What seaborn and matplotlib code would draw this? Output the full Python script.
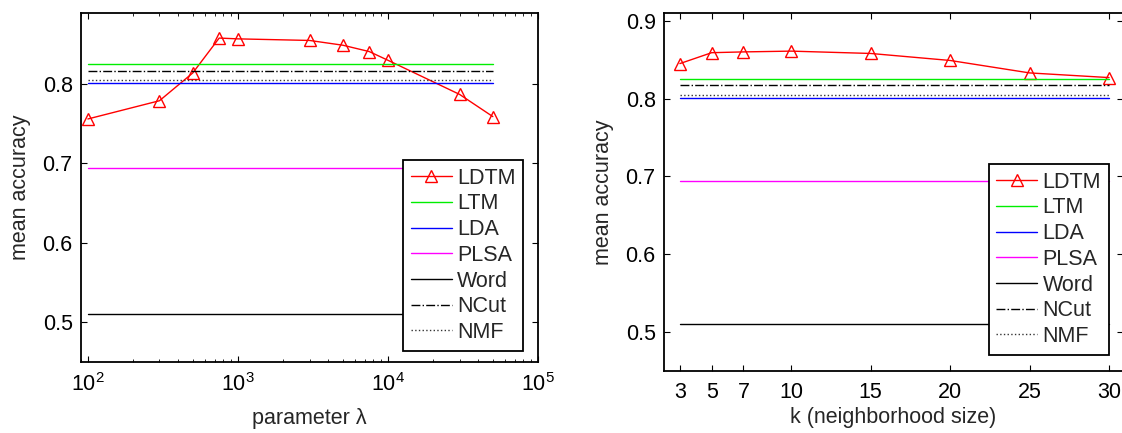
"""
Recreación: precisión media vs parámetro lambda y vs k (tamaño de vecindario).
"""
import matplotlib
matplotlib.use("Agg")
import matplotlib.pyplot as plt
import matplotlib.ticker as mticker
import pandas as pd
import seaborn as sns

# --- datos panel izquierdo (lambda, escala log) ---
lam = [100, 300, 500, 750, 1000, 3000, 5000, 7500, 10000, 30000, 50000]
ldtm_lam = [0.756, 0.779, 0.814, 0.858, 0.857, 0.855, 0.849, 0.841, 0.830, 0.787, 0.759]
lam_span = [100, 50000]

# --- datos panel derecho (k) ---
k_vals = [3, 5, 7, 10, 15, 20, 25, 30]
ldtm_k = [0.845, 0.859, 0.860, 0.861, 0.858, 0.849, 0.833, 0.827]
k_span = [3, 30]

# líneas base (mismo valor en ambos paneles)
metodos = ["LTM", "LDA", "PLSA", "Word", "NCut", "NMF"]
base_izq = [0.825, 0.801, 0.694, 0.510, 0.816, 0.805]
base_der = [0.825, 0.801, 0.694, 0.510, 0.817, 0.805]

ESTILOS = {
    "LTM": ("#00ee00", "-"),
    "LDA": ("#0000ff", "-"),
    "PLSA": ("#ff00ff", "-"),
    "Word": ("#000000", "-"),
    "NCut": ("#000000", "-."),
    "NMF": ("#333333", ":"),
}

FS = 15.5

sns.set_style("ticks")
plt.rcParams.update({
    "font.family": ["Liberation Sans", "DejaVu Sans"],
    "font.size": FS,
    "axes.linewidth": 1.3,
    "xtick.direction": "in",
    "ytick.direction": "in",
    "xtick.top": True,
    "ytick.right": True,
    "xtick.major.size": 4,
    "ytick.major.size": 4,
    "xtick.minor.size": 2,
    "xtick.major.pad": 8,
    "ytick.major.pad": 6,
    "xtick.labelsize": FS,
    "ytick.labelsize": FS,
    "xtick.color": "black",
    "ytick.color": "black",
    "axes.edgecolor": "black",
})


def dibujar(ax, x, y, span, bases):
    sns.lineplot(x=x, y=y, ax=ax, color="red", linewidth=1.0, marker="^",
                 markersize=8, markerfacecolor="none", markeredgecolor="red",
                 markeredgewidth=1.0, label="LDTM")
    for nombre, val in zip(metodos, bases):
        color, ls = ESTILOS[nombre]
        df = pd.DataFrame({"x": span, "y": [val, val]})
        sns.lineplot(data=df, x="x", y="y", ax=ax, color=color, linestyle=ls,
                     linewidth=1.0, label=nombre)
    ax.set_ylabel("mean accuracy", fontsize=FS, labelpad=8)
    ax.set_yticks([0.5, 0.6, 0.7, 0.8, 0.9])
    ax.yaxis.set_major_formatter(mticker.FormatStrFormatter("%.1f"))
    for s in ax.spines.values():
        s.set_visible(True)


def leyenda(ax, anchor):
    lg = ax.legend(loc="lower right", bbox_to_anchor=anchor, frameon=True,
                   fancybox=False, edgecolor="black", framealpha=1, fontsize=FS,
                   handlelength=1.9, labelspacing=0.22, borderpad=0.35,
                   handletextpad=0.25, borderaxespad=0)
    lg.get_frame().set_linewidth(1.3)


fig = plt.figure(figsize=(11.22, 4.33), dpi=100)
ax1 = fig.add_axes([0.0722, 0.1647, 0.4073, 0.806])
ax2 = fig.add_axes([0.5918, 0.1432, 0.4091, 0.8268])

dibujar(ax1, lam, ldtm_lam, lam_span, base_izq)
ax1.set_xscale("log")
ax1.set_xlim(90, 1e5)
ax1.set_ylim(0.45, 0.89)
ax1.set_xlabel("parameter λ", fontsize=FS, labelpad=9)
leyenda(ax1, (0.967, 0.032))

dibujar(ax2, k_vals, ldtm_k, k_span, base_der)
ax2.set_xlim(2, 30.88)
ax2.set_ylim(0.45, 0.91)
ax2.set_xticks(k_vals)
ax2.set_xlabel("k (neighborhood size)", fontsize=FS, labelpad=3)
leyenda(ax2, (0.969, 0.046))

fig.savefig("out.png", dpi=100)
plt.close(fig)
